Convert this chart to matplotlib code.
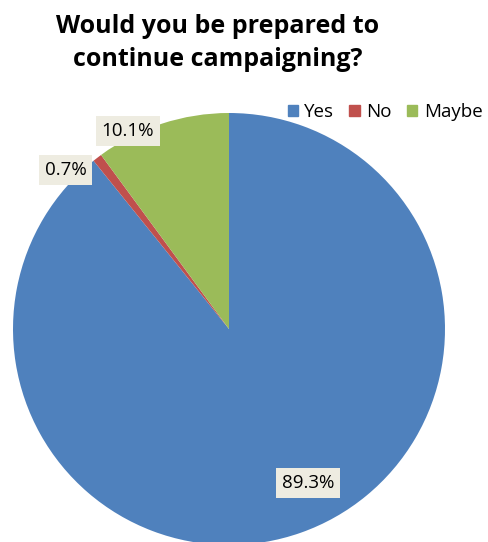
import matplotlib.pyplot as plt

answers = ['Yes', 'No', 'Maybe']
shares = [89.3, 0.7, 10.1]
colors = ['#4F81BD', '#C0504D', '#9BBB59']
label_text = ['89.3%', '0.7%', '10.1%']
label_pos = [(0.366, -0.713), (-0.755, 0.736), (-0.468, 0.917)]

fig = plt.figure(figsize=(4.88, 5.42), dpi=100)
plt.rcParams['font.family'] = ['Open Sans', 'DejaVu Sans']

# pie centre ~ (229, 329) px, radius ~216 px
ax = fig.add_axes([(229 - 216) / 488, (542 - 329 - 216) / 542, 432 / 488, 432 / 542])
wedges, _ = ax.pie(shares, colors=colors, startangle=90, counterclock=False,
                   wedgeprops=dict(linewidth=0))
for w in wedges:
    w.set_clip_on(False)
ax.set_xlim(-1, 1)
ax.set_ylim(-1, 1)
ax.set_aspect('equal')
ax.axis('off')

for txt, (x, y) in zip(label_text, label_pos):
    ax.text(x, y, txt, ha='center', va='center', fontsize=13.5, color='black',
            bbox=dict(boxstyle='square,pad=0.3', facecolor='#EEECE1', edgecolor='none'),
            clip_on=False)

fig.text(218 / 488, 1 - 43 / 542, 'Would you be prepared to\ncontinue campaigning?',
         ha='center', va='center', fontsize=18, fontweight='bold', linespacing=1.45)

handles = [plt.Rectangle((0, 0), 1, 1, color=c) for c in colors]
fig.legend(handles, answers, loc='center', bbox_to_anchor=(385 / 488, 1 - 112 / 542),
           ncol=3, frameon=False, fontsize=13.5, handlelength=0.55, handleheight=0.55,
           handletextpad=0.35, columnspacing=0.8, borderpad=0, borderaxespad=0)

fig.savefig('out.png', dpi=100)
